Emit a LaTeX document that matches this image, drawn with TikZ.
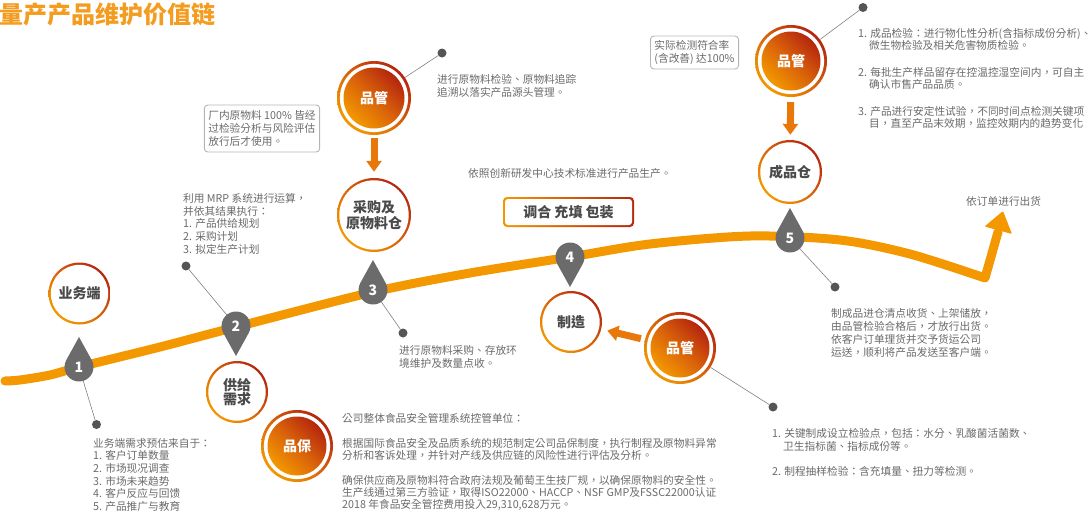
\documentclass[tikz,border=0pt]{standalone}
\usepackage{fontspec}
\setmainfont[Language=Chinese Traditional]{Noto Sans CJK TC}
\usetikzlibrary{arrows.meta}

\definecolor{corange}{HTML}{F39800}
\definecolor{cred}{HTML}{B5260E}
\definecolor{cmid}{HTML}{D9620A}
\definecolor{trailc}{HTML}{F39800}
\definecolor{mgray}{HTML}{6B6B6B}
\definecolor{dotgray}{HTML}{555555}
\definecolor{txtgray}{HTML}{6A6A6A}
\definecolor{lblgray}{HTML}{4A4A4A}
\definecolor{boxgray}{HTML}{B4B4B4}
\definecolor{arrowc}{HTML}{E8780A}
\definecolor{titlec}{HTML}{F39C1F}

\newcommand\txtfont{\fontsize{10.7}{12.8}\selectfont}
\newcommand\lblfont{\bfseries\fontsize{14}{15}\selectfont}

\begin{document}
\begin{tikzpicture}[x=1pt,y=1pt,
  shadecols/.style={top color=cred, bottom color=corange, middle color=cmid, shading angle=-45},
  ringnode/.style={circle, inner sep=0pt, minimum size=#1pt, font=\lblfont, text=lblgray, align=center,
    path picture={
      \shade[shadecols] (path picture bounding box.south west) rectangle (path picture bounding box.north east);
      \fill[white] (path picture bounding box.center) circle ({#1/2-2.3});}},
  qcnode/.style={circle, inner sep=0pt, minimum size=#1pt, font=\lblfont, text=white,
    path picture={
      \shade[shadecols] (path picture bounding box.south west) rectangle (path picture bounding box.north east);
      \fill[white] (path picture bounding box.center) circle ({#1/2-2.9});
      \shade[shadecols] (path picture bounding box.center) circle ({#1/2-6.5});}},
  txt/.style={anchor=north west, inner sep=0pt, align=left, text=txtgray, font=\txtfont},
  graybox/.style={draw=boxgray, line width=0.9pt, rounded corners=3.5pt, align=left, text=txtgray,
    font=\fontsize{10.7}{13}\selectfont, inner xsep=4pt, inner ysep=3pt},
  dotnode/.style={circle, fill=dotgray, inner sep=0pt, minimum size=9pt},
  leader/.style={draw=black!50, line width=0.6pt},
  mnum/.style={inner sep=0pt, text=white, font=\bfseries\fontsize{14}{14}\selectfont},
  qarrow/.style={draw=arrowc, line width=7pt, -{Triangle[width=15pt,length=11pt]}},
  trail/.style={draw=trailc, line width=9pt, line cap=round, line join=round},
  pics/dropup/.style={code={\fill[mgray] (0,30) -- (28.9:14.5) arc[start angle=28.9,end angle=-208.9,radius=14.5] -- cycle;}},
  pics/dropdown/.style={code={\fill[mgray] (0,-30) -- (-28.9:14.5) arc[start angle=-28.9,end angle=208.9,radius=14.5] -- cycle;}}
]
\useasboundingbox (0,0) rectangle (1088,-515);

% title
\node[anchor=west, inner sep=0pt, text=titlec, font=\bfseries\fontsize{24}{25}\selectfont] (title) at (-1,-14.5) {量产产品维护价值链};

% the value-chain trail with its end arrow
\draw[trail] plot[smooth, tension=0.5] coordinates {(5,-381) (20,-380) (50,-375) (79,-367) (160,-347) (236,-327) (373,-292) (470,-273) (570,-257) (650,-244) (750,-236) (840,-240) (910,-254) (985,-278)} -- (998,-232);
\fill[trailc, rounded corners=1pt] (1003,-211) -- (984.5,-226.5) -- (1012,-234) -- cycle;

% stage positions on the trail
\coordinate (p1) at (79,-367);
\coordinate (p2) at (236,-326);
\coordinate (p3) at (373,-290);
\coordinate (p4) at (570,-257);
\coordinate (p5) at (790,-238);

% leader dots
\node[dotnode] (d1) at (96.5,-424.5) {};
\node[dotnode] (d2) at (186,-266) {};
\node[dotnode] (d3) at (403,-333) {};
\node[dotnode] (d5) at (835,-287) {};
\node[dotnode] (dq1) at (442,-53) {};
\node[dotnode] (dq2) at (863,-7.5) {};
\node[dotnode] (dq3) at (773,-407) {};

\draw[leader] (p1) -- (d1);
\draw[leader] (p2) -- (d2);
\draw[leader] (p3) -- (d3);
\draw[leader] (p5) -- (d5);

% stage markers
\pic at (p1) {dropup};
\pic at (p2) {dropdown};
\pic at (p3) {dropup};
\pic at (p4) {dropdown};
\pic at (p5) {dropup};
\node[mnum] (m1) at (p1) {1};
\node[mnum] (m2) at (p2) {2};
\node[mnum] (m3) at (p3) {3};
\node[mnum] (m4) at (p4) {4};
\node[mnum] (m5) at (p5) {5};

% stage circles
\node[ringnode=62] (biz) at (79.5,-293.5) {业务端};
\node[ringnode=62, font=\bfseries\fontsize{14}{14}\selectfont] (supply) at (237,-392) {供给\\需求};
\node[ringnode=74, font=\bfseries\fontsize{14}{16}\selectfont] (purch) at (374,-215) {采购及\\原物料仓};
\node[ringnode=62] (mfg) at (571,-322) {制造};
\node[ringnode=64] (fin) at (790,-172) {成品仓};

% quality circles
\node[qcnode=74] (q1) at (374,-98) {品管};
\node[qcnode=72] (q2) at (791,-61) {品管};
\node[qcnode=72] (q3) at (680,-348) {品管};
\node[qcnode=72] (qa) at (297,-446) {品保};

\draw[leader] (q1) -- (dq1);
\draw[leader] (q2) -- (dq2);
\draw[leader] (q3) -- (dq3);

\draw[qarrow, shorten <=3pt, shorten >=6pt] (q1) -- (purch);
\draw[qarrow, shorten <=5pt, shorten >=5pt] (q2) -- (fin);
\draw[qarrow, shorten <=4pt, shorten >=6pt] (q3) -- (mfg);

% boxes
\node[graybox, minimum height=47pt] (box1) at (262,-128.5) {厂内原物料 100\% 皆经\\过检验分析与风险评估\\放行后才使用。};
\node[graybox, minimum height=33pt] (box2) at (694.5,-52.5) {实际检测符合率\\(含改善) 达100\%};
\node[rectangle, rounded corners=4pt, minimum width=131pt, minimum height=30pt, inner sep=0pt,
  text=lblgray, font=\bfseries\fontsize{14}{14}\selectfont,
  path picture={
    \shade[left color=corange, right color=cred] (path picture bounding box.south west) rectangle (path picture bounding box.north east);
    \fill[white, rounded corners=3pt] ([shift={(2pt,2pt)}]path picture bounding box.south west) rectangle ([shift={(-2pt,-2pt)}]path picture bounding box.north east);}]
  (mix) at (568.5,-212) {调合 充填 包装};

% descriptions
\node[txt] (tq1) at (437,-74) {进行原物料检验、原物料追踪\\追溯以落实产品源头管理。};
\node[txt] (tmrp) at (183,-193) {利用 MRP 系统进行运算，\\并依其结果执行：\\1. 产品供给规划\\2. 采购计划\\3. 拟定生产计划};
\node[txt] (tprod) at (468,-168) {依照创新研发中心技术标准进行产品生产。};
\node[txt, font=\fontsize{10.7}{12.2}\selectfont] (tq2) at (858,-28) {1. 成品检验：进行物化性分析(含指标成份分析)、\\\hspace*{11pt}微生物检验及相关危害物质检验。\\[14.8pt]2. 每批生产样品留存在控温控湿空间内，可自主\\\hspace*{11pt}确认市售产品品质。\\[14.8pt]3. 产品进行安定性试验，不同时间点检测关键项\\\hspace*{11pt}目，直至产品末效期，监控效期内的趋势变化};
\node[txt] (tship) at (966,-196) {依订单进行出货};
\node[txt, font=\fontsize{10.7}{13}\selectfont] (t5) at (831,-308) {制成品进仓清点收货、上架储放，\\由品管检验合格后，才放行出货。\\依客户订单理货并交予货运公司\\运送，顺利将产品发送至客户端。};
\node[txt, font=\fontsize{10.7}{13.5}\selectfont] (tq3) at (772,-428) {1. 关键制成设立检验点，包括：水分、乳酸菌活菌数、\\\hspace*{11pt}卫生指标菌、指标成份等。\\[11.5pt]2. 制程抽样检验：含充填量、扭力等检测。};
\node[txt, font=\fontsize{10.7}{11.8}\selectfont] (tqa) at (342,-413) {公司整体食品安全管理系统控管单位：\\[13.2pt]根据国际食品安全及品质系统的规范制定公司品保制度，执行制程及原物料异常\\分析和客诉处理，并针对产线及供应链的风险性进行评估及分析。\\[14pt]确保供应商及原物料符合政府法规及葡萄王生技厂规，以确保原物料的安全性。\\生产线通过第三方验证，取得ISO22000、HACCP、NSF GMP及FSSC22000认证\\2018 年食品安全管控费用投入29,310,628万元。};
\node[txt, font=\fontsize{10.7}{12.6}\selectfont] (t1) at (93,-438) {业务端需求预估来自于：\\1. 客户订单数量\\2. 市场现况调查\\3. 市场未来趋势\\4. 客户反应与回馈\\5. 产品推广与教育};
\node[txt] (t3) at (399,-345) {进行原物料采购、存放环\\境维护及数量点收。};
\end{tikzpicture}
\end{document}
